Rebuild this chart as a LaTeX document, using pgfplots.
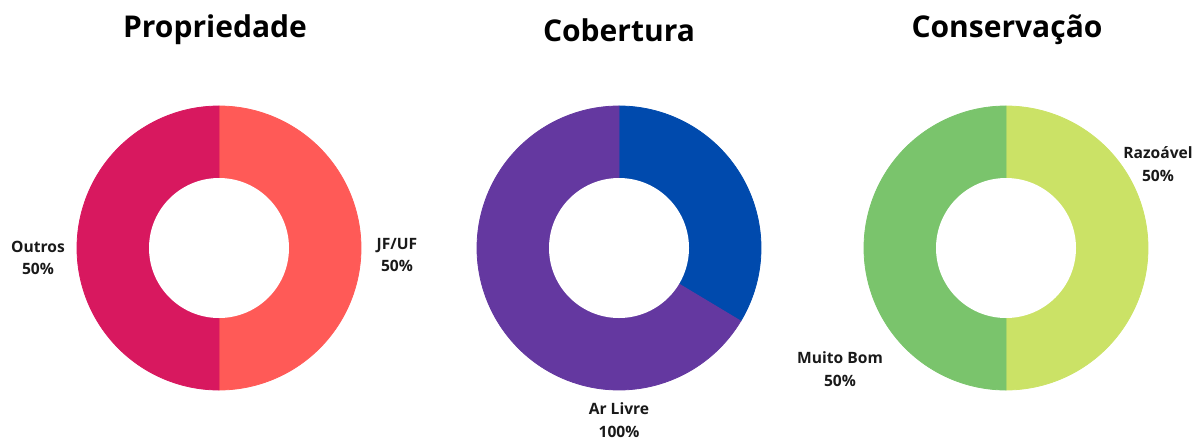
\documentclass[border=0pt]{standalone}
\usepackage{pgfplots}
\pgfplotsset{compat=1.18}
\usepackage{fontspec}
\setmainfont{Open Sans}
\definecolor{coral}{HTML}{FF5A57}
\definecolor{crimson}{HTML}{D8185F}
\definecolor{royal}{HTML}{004AAD}
\definecolor{violet}{HTML}{6438A0}
\definecolor{lime}{HTML}{CBE266}
\definecolor{leaf}{HTML}{7AC46C}
\tikzset{
  ttl/.style={font=\fontsize{15}{18}\selectfont\bfseries, text=black},
  lbl/.style={font=\fontsize{7.8}{11.4}\selectfont\bfseries, align=center, text=black!90},
}
% slice: cx, cy, start share (%), share (%), colour ; clockwise from 12 o'clock
\newcommand{\slice}[5]{%
  \addplot[fill=#5, draw=#5, line width=0.4pt, domain={90-3.6*(#3)}:{90-3.6*(#3+#4)}, samples=120]
    ({#1+142*cos(x)},{#2-142*sin(x)}) -- (axis cs:#1,#2) -- cycle;
}
\newcommand{\hole}[2]{\fill[white] (axis cs:#1,#2) circle[radius=70];}

\begin{document}
\begin{tikzpicture}
\begin{axis}[
  hide axis, scale only axis, width=600pt, height=220.5pt,
  xmin=0, xmax=1200, ymin=0, ymax=441, y dir=reverse, clip=false,
]
% Propriedade
\slice{219}{248}{0}{50}{coral}
\slice{219}{248}{50}{50}{crimson}
\hole{219}{248}
% Cobertura
\slice{619}{248}{0}{33.6}{royal}
\slice{619}{248}{33.6}{66.4}{violet}
\hole{619}{248}
% Conservacao
\slice{1006}{248}{0}{50}{lime}
\slice{1006}{248}{50}{50}{leaf}
\hole{1006}{248}

\node[ttl] at (axis cs:215,30) {Propriedade};
\node[ttl] at (axis cs:619,30) {Cobertura};
\node[ttl] at (axis cs:1007,30) {Conservação};

\node[lbl] at (axis cs:38,258) {Outros\\50\%};
\node[lbl] at (axis cs:397,255) {JF/UF\\50\%};
\node[lbl] at (axis cs:619,420) {Ar Livre\\100\%};
\node[lbl] at (axis cs:840,369) {Muito Bom\\50\%};
\node[lbl] at (axis cs:1158,164) {Razoável\\50\%};
\end{axis}
\pgfresetboundingbox
\path[use as bounding box] (0,0) rectangle (600pt,220.5pt);
\end{tikzpicture}
\end{document}
